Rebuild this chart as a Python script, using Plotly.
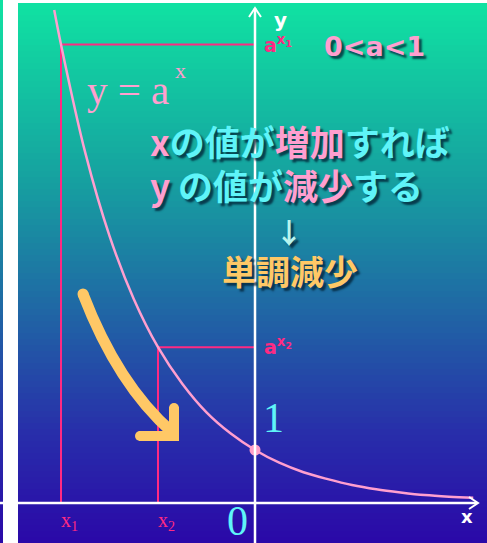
import plotly.graph_objects as go

# ---------------- data ----------------
# y = a^x  with 0 < a < 1
curve_x = [-2.07, -2.0, -1.75, -1.5, -1.25, -1.0, -0.75, -0.5, -0.25, 0.0,
           0.25, 0.5, 0.75, 1.0, 1.25, 1.5, 1.75, 2.0, 2.25]
curve_y = [9.30, 8.65, 6.61, 5.04, 3.85, 2.94, 2.25, 1.71, 1.31, 1.00,
           0.76, 0.58, 0.45, 0.34, 0.26, 0.20, 0.15, 0.12, 0.10]

mark_x = [-2.0, -1.0]                 # x1, x2
mark_y = [8.65, 2.94]                 # a^x1, a^x2
mark_xlabels = ["x<sub>1</sub>", "x<sub>2</sub>"]
mark_ylabels = ["a<sup>x<sub>1</sub></sup>", "a<sup>x<sub>2</sub></sup>"]

# ---------------- geometry helpers (pixel -> data) ----------------
W, H = 487, 543
X0, Y0, UX, UY = 255, 503, 97.0, 53.0
def dx(px): return (px - X0) / UX
def dy(py): return (Y0 - py) / UY

PINK = "#ff9fcf"
HOT = "#ff2a82"
CYAN = "#5ff4f8"
ORANGE = "#ffc866"

fig = go.Figure()
shapes = []

# gradient background panel
stops = [(0.0, (16, 226, 162)), (0.33, (22, 160, 160)), (0.58, (32, 100, 165)),
         (0.8, (40, 45, 170)), (1.0, (42, 8, 168))]
def col(t):
    for (t0, c0), (t1, c1) in zip(stops[:-1], stops[1:]):
        if t0 <= t <= t1:
            f = (t - t0) / (t1 - t0)
            return "rgb(%d,%d,%d)" % tuple(round(a + (b - a) * f) for a, b in zip(c0, c1))
    return "rgb(%d,%d,%d)" % stops[-1][1]
N = 90
top, bot = 3, H
for i in range(N):
    y0p = top + (bot - top) * i / N
    y1p = top + (bot - top) * (i + 1) / N + 0.6
    c = col((i + 0.5) / N)
    shapes.append(dict(type="rect", xref="x", yref="y", x0=dx(18), x1=dx(W + 2),
                       y0=dy(y1p), y1=dy(y0p), fillcolor=c, line_width=0, layer="below"))
    shapes.append(dict(type="rect", xref="x", yref="y", x0=dx(-2), x1=dx(3),
                       y0=dy(y1p), y1=dy(y0p - (3 if i == 0 else 0)), fillcolor=c,
                       line_width=0, layer="below"))

# guide lines (hot pink)
for mx, my in zip(mark_x, mark_y):
    shapes.append(dict(type="line", xref="x", yref="y", x0=mx, x1=mx, y0=0, y1=my,
                       line=dict(color=HOT, width=2), layer="below"))
    shapes.append(dict(type="line", xref="x", yref="y", x0=mx, x1=0, y0=my, y1=my,
                       line=dict(color=HOT, width=2), layer="below"))

# axes (white) with chevron arrowheads
shapes += [
    dict(type="line", xref="x", yref="y", x0=0, x1=0, y0=dy(H + 2), y1=dy(8),
         line=dict(color="white", width=2.5)),
    dict(type="path", xref="x", yref="y",
         path="M %f,%f L %f,%f L %f,%f" % (dx(249), dy(17), 0, dy(8), dx(261), dy(17)),
         line=dict(color="white", width=2)),
    dict(type="line", xref="x", yref="y", x0=dx(-2), x1=dx(477), y0=0, y1=0,
         line=dict(color="white", width=2.5)),
    dict(type="path", xref="x", yref="y",
         path="M %f,%f L %f,%f L %f,%f" % (dx(469), dy(497), dx(478), 0, dx(469), dy(509)),
         line=dict(color="white", width=2)),
]

# orange curved arrow
shapes += [
    dict(type="path", xref="x", yref="y",
         path="M %f,%f Q %f,%f %f,%f" % (dx(83), dy(294), dx(118), dy(385), dx(172), dy(432)),
         line=dict(color=ORANGE, width=11)),
    dict(type="line", xref="x", yref="y", x0=dx(174), x1=dx(174), y0=dy(407), y1=dy(438),
         line=dict(color=ORANGE, width=10)),
    dict(type="line", xref="x", yref="y", x0=dx(139), x1=dx(179), y0=dy(436), y1=dy(436),
         line=dict(color=ORANGE, width=10)),
]
for (cx, cy, r) in [(83, 294, 5.5), (174, 408, 5), (140, 436, 5)]:
    shapes.append(dict(type="circle", xref="x", yref="y", x0=dx(cx - r), x1=dx(cx + r),
                       y0=dy(cy + r), y1=dy(cy - r), fillcolor=ORANGE, line_width=0))

# the curve
fig.add_trace(go.Scatter(x=curve_x, y=curve_y, mode="lines", line_shape="spline",
                         line=dict(color=PINK, width=2.5), hoverinfo="skip"))
fig.add_trace(go.Scatter(x=[0], y=[1], mode="markers",
                         marker=dict(color="#ffa0c8", size=11), hoverinfo="skip"))

ann = []
def A(px, py, text, size, color, family="DejaVu Sans", weight="normal", xanchor="center",
      yanchor="middle", shadow="none"):
    ann.append(dict(x=dx(px), y=dy(py), xref="x", yref="y", text=text, showarrow=False,
                    xanchor=xanchor, yanchor=yanchor,
                    font=dict(size=size, color=color, family=family, weight=weight,
                              shadow=shadow)))

SERIF = "Liberation Serif"
JP = "Noto Sans CJK JP"
SH = "3px 3px 2px rgba(0,30,50,0.75)"

# axis names
A(280, 20, "y", 20, "white", family="DejaVu Sans", weight="bold")
A(467, 516, "x", 18, "white", family="DejaVu Sans", weight="bold")

# x-marks and y-marks
for mx, lab in zip(mark_x, mark_xlabels):
    A(X0 + mx * UX + 8, 521, lab, 20, HOT, family=SERIF)
for my, lab in zip(mark_y, mark_ylabels):
    A(262, Y0 - my * UY - 1, lab, 19, HOT, family="DejaVu Sans", weight="bold", xanchor="left")

A(237, 521, "0", 42, CYAN, family=SERIF)
A(273, 418, "1", 42, CYAN, family=SERIF)

# formula
A(85, 90, "y = a", 41, PINK, family=SERIF, xanchor="left")
A(173, 70, "x", 22, PINK, family=SERIF, xanchor="left")

A(374, 46, "0<a<1", 27, PINK, family="DejaVu Sans", weight="bold", shadow=SH)

# Japanese captions
line1 = ("<span style='color:%s'>x</span>の値が<span style='color:%s'>増加</span>すれば"
         % (PINK, PINK))
line2 = ("<span style='color:%s'>y</span> の値が<span style='color:%s'>減少</span>する"
         % (PINK, PINK))
A(148, 140, line1, 35, CYAN, family=JP, weight="bold", xanchor="left", shadow=SH)
A(148, 184, line2, 35, CYAN, family=JP, weight="bold", xanchor="left", shadow=SH)
A(289, 232, "↓", 28, "#b8f4ee", family=JP, weight="bold", shadow=SH)
A(290, 270, "単調減少", 34, ORANGE, family=JP, weight="bold", shadow=SH)

fig.update_layout(
    width=W, height=H, margin=dict(l=0, r=0, t=0, b=0),
    paper_bgcolor="white", plot_bgcolor="rgba(0,0,0,0)",
    xaxis=dict(range=[dx(0), dx(W)], visible=False, fixedrange=True),
    yaxis=dict(range=[dy(H), dy(0)], visible=False, fixedrange=True),
    showlegend=False, shapes=shapes, annotations=ann,
)
fig.write_html("out.html", config={"displayModeBar": False},
               post_script="document.body.style.margin='0';document.body.style.overflow='hidden';")
